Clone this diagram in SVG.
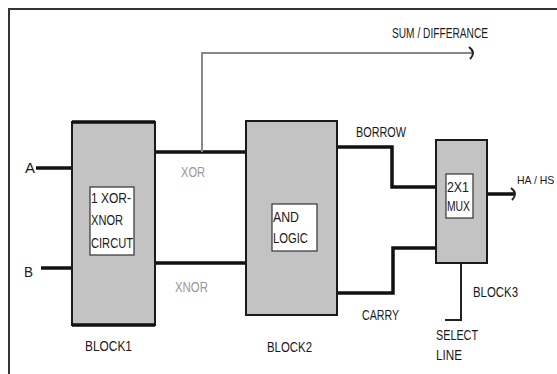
<svg xmlns="http://www.w3.org/2000/svg" width="557" height="374" viewBox="0 0 557 374">
<style>
text{font-family:"Liberation Sans",Arial,sans-serif;font-size:14px;fill:#1a1a1a;}
.lbl{fill:#999;}
.blk{fill:#c3c3c3;stroke:#1a1a1a;stroke-width:2;}
.inner{fill:#fff;stroke:#333;stroke-width:1.2;}
.w{fill:none;stroke:#111;stroke-width:3.5;}
.g{fill:none;stroke:#888;stroke-width:2;}
.s{fill:none;stroke:#222;stroke-width:2;}
</style>
<defs>
<marker id="arr" markerWidth="10" markerHeight="14" refX="4" refY="7" orient="auto" markerUnits="userSpaceOnUse">
<path d="M1,1 Q5,4 5,7 Q5,10 2,13" fill="none" stroke="#222" stroke-width="2"/>
</marker>
</defs>
<rect width="557" height="374" fill="#fff"/>
<path d="M9,374 V9 H557" fill="none" stroke="#333" stroke-width="2"/>
<g id="connectors">
<path class="w" d="M36,168 H72"/>
<path class="w" d="M41,268 H72"/>
<path class="w" d="M155,152 H246"/>
<path class="w" d="M155,263 H246"/>
<path class="g" d="M202,152 V53 H472" marker-end="url(#arr)"/>
<path class="w" d="M338,147 H392 V187 H436"/>
<path class="w" d="M338,293 H393 V248 H436"/>
<path class="w" d="M487,194 H514" marker-end="url(#arr)"/>
<path class="s" d="M461,263 V320 H445"/>
</g>
<g id="block1">
<rect class="blk" x="72" y="122" width="83" height="203" stroke-width="1.5"/>
<path d="M72,122 H155 M72,325 H155" stroke="#111" stroke-width="3.5"/>
<rect class="inner" x="90" y="187" width="44" height="68"/>
<text x="91" y="203" textLength="40" lengthAdjust="spacingAndGlyphs">1 XOR-</text>
<text x="91" y="225" textLength="32" lengthAdjust="spacingAndGlyphs">XNOR</text>
<text x="91" y="248" textLength="42" lengthAdjust="spacingAndGlyphs">CIRCUT</text>
<text x="85" y="351" textLength="47" lengthAdjust="spacingAndGlyphs">BLOCK1</text>
</g>
<g id="block2">
<rect class="blk" x="246" y="121" width="91" height="194"/>
<rect class="inner" x="272" y="204" width="45" height="47"/>
<text x="273" y="222" textLength="26" lengthAdjust="spacingAndGlyphs">AND</text>
<text x="273" y="243" textLength="35" lengthAdjust="spacingAndGlyphs">LOGIC</text>
<text x="267" y="352" textLength="45" lengthAdjust="spacingAndGlyphs">BLOCK2</text>
</g>
<g id="block3">
<rect class="blk" x="436" y="140" width="51" height="123" stroke-width="2.5"/>
<rect class="inner" x="446" y="174" width="27" height="44"/>
<text x="447" y="192" textLength="22" lengthAdjust="spacingAndGlyphs">2X1</text>
<text x="447" y="211" textLength="23" lengthAdjust="spacingAndGlyphs">MUX</text>
<text x="473" y="297" textLength="45" lengthAdjust="spacingAndGlyphs">BLOCK3</text>
</g>
<g id="labels">
<text x="25" y="173" textLength="10" lengthAdjust="spacingAndGlyphs">A</text>
<text x="24" y="277" textLength="9" lengthAdjust="spacingAndGlyphs">B</text>
<text class="lbl" x="181" y="177" textLength="24" lengthAdjust="spacingAndGlyphs">XOR</text>
<text class="lbl" x="175" y="292" textLength="33" lengthAdjust="spacingAndGlyphs">XNOR</text>
<text x="392" y="38" textLength="96" lengthAdjust="spacingAndGlyphs">SUM / DIFFERANCE</text>
<text x="356" y="137" textLength="50" lengthAdjust="spacingAndGlyphs">BORROW</text>
<text x="362" y="320" textLength="37" lengthAdjust="spacingAndGlyphs">CARRY</text>
<text x="517" y="184" style="font-size:10.5px">HA / HS</text>
<text x="436" y="340" textLength="42" lengthAdjust="spacingAndGlyphs">SELECT</text>
<text x="436" y="360" textLength="26" lengthAdjust="spacingAndGlyphs">LINE</text>
</g>
</svg>
